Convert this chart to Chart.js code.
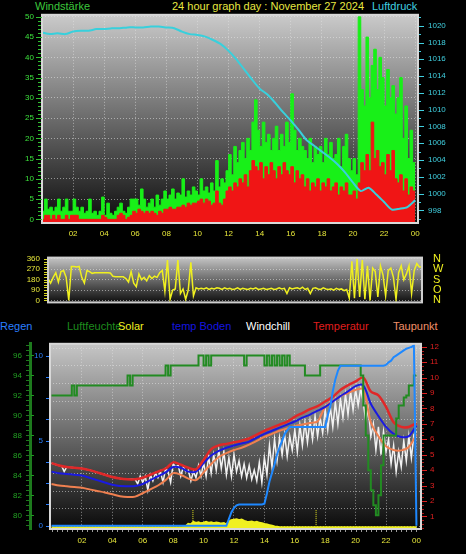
<!DOCTYPE html>
<html>
<head>
<meta charset="utf-8">
<script src="https://cdn.jsdelivr.net/npm/chart.js@4.4.0/dist/chart.umd.min.js"></script>
<style>
  html, body { margin: 0; padding: 0; background: #000; }
  body { width: 466px; height: 554px; position: relative; overflow: hidden; font-family: 'Liberation Sans', Arial, sans-serif; }
  canvas { position: absolute; left: 0; }
  .t { position: absolute; font-size: 11px; line-height: 12px; white-space: nowrap; }
</style>
</head>
<body>
<div class="t" style="left:35px;top:0;color:#3cc83c">Windstärke</div>
<div class="t" style="left:172px;top:0;color:#e8e840">24 hour graph day : November 27 2024</div>
<div class="t" style="left:372px;top:0;color:#40d0e0">Luftdruck</div>

<div class="t" style="left:0;top:320px;color:#2a7fff">Regen</div>
<div class="t" style="left:67px;top:320px;color:#1e8c1e">Luftfeuchte</div>
<div class="t" style="left:118px;top:320px;color:#f0f020">Solar</div>
<div class="t" style="left:172px;top:320px;color:#1515e0">temp Boden</div>
<div class="t" style="left:246px;top:320px;color:#ffffff">Windchill</div>
<div class="t" style="left:313px;top:320px;color:#e01e1e">Temperatur</div>
<div class="t" style="left:393px;top:320px;color:#f0906a">Taupunkt</div>

<canvas id="windChart" style="top:0" width="466" height="245"></canvas>
<canvas id="dirChart" style="top:240px" width="466" height="80"></canvas>
<canvas id="tempChart" style="top:330px" width="466" height="224"></canvas>

<script>
// ---- data (10-minute samples unless noted) ----
const hourTicks = [2, 4, 6, 8, 10, 12, 14, 16, 18, 20, 22, 24];
const windTicks = [0, 5, 10, 15, 20, 25, 30, 35, 40, 45, 50];
const pressTicks = [998, 1000, 1002, 1004, 1006, 1008, 1010, 1012, 1014, 1016, 1018, 1020];
const dirTicks = [0, 90, 180, 270, 360];
const compassLabels = ['N', 'O', 'S', 'W', 'N'];
const humTicks = [80, 82, 84, 86, 88, 90, 92, 94, 96];
const rainTicks = [0, 5, 10];
const tempTicks = [1, 2, 3, 4, 5, 6, 7, 8, 9, 10, 11, 12];
const sunTimes = [9.3, 17.4];

const windGust = [
  3, 2, 5, 2.5, 3, 2,
  3, 5, 2, 3, 5, 2,
  2, 5, 3, 2, 3, 1.5,
  2, 5, 1.5, 2, 1, 2,
  5.5, 1, 4, 1.5, 1, 2,
  3, 4, 2, 1.5, 3, 5,
  5, 5, 3.5, 7.5, 5, 3,
  4, 5, 3, 6, 3.5, 5,
  7, 5, 6, 7.5, 5, 6.5,
  6, 10, 5.5, 7, 6, 8,
  7, 6, 10, 7, 8, 6.5,
  9, 7, 14.5, 8, 10, 9,
  12, 16, 11, 18, 14, 17,
  19, 15, 20, 17, 24, 29.5,
  22, 18, 24, 19, 21, 17,
  20, 23, 17, 21, 18, 24,
  19, 31, 22, 17, 20, 18,
  17, 15, 20, 14, 18, 16,
  18, 14, 20, 16, 19, 15,
  16, 20, 13, 18, 21, 15,
  12, 15, 11, 50, 32, 28,
  45, 30, 38, 42, 32, 40,
  35, 28, 37, 30, 33, 26,
  30, 35, 20, 28, 15, 22,
  14
];

const windAvg = [
  1, 0, 1, 1, 0, 1,
  0, 1, 0, 0, 1, 0,
  1, 1, 1, 0, 0, 0,
  0, 0, 0, 0, 0, 0,
  1, 0.5, 0, 0, 0, 0,
  1, 1.5, 1, 0, 0.5, 1,
  2, 1.5, 2.5, 2, 1.5, 2,
  1.5, 2, 1.5, 1, 2, 1.5,
  2.5, 2.5, 3, 2.5, 2.5, 3,
  3, 3.5, 3, 4, 3.5, 4,
  4, 4.5, 5, 4, 5, 4.5,
  3.5, 4, 7, 4, 3.5, 5,
  7, 8, 7, 9, 8, 10,
  9, 11, 8, 12, 14.5, 13,
  12, 14, 10, 13, 11, 14,
  12, 10, 13, 11, 14, 12,
  11, 13, 9, 12, 10, 11,
  8, 10, 7, 9, 8, 10,
  7, 9, 8, 10, 7, 8,
  9, 6, 8, 7, 9, 6,
  6, 7, 5, 9, 14, 12,
  16, 12, 24, 15, 17, 13,
  14, 11, 16, 12, 17, 10,
  9, 11, 7, 10, 6, 8,
  7
];

// 30-minute samples
const pressure = [
  1019.2, 1019.0, 1019.1, 1019.0, 1019.3, 1019.4, 1019.4, 1019.6, 1019.6, 1019.7,
  1019.7, 1019.8, 1019.8, 1019.8, 1019.9, 1019.9, 1019.8, 1019.7, 1019.3, 1019.0,
  1018.9, 1018.7, 1018.3, 1017.8, 1017.0, 1016.0, 1014.8, 1013.6, 1012.5, 1011.8,
  1010.8, 1009.7, 1008.7, 1007.6, 1006.4, 1005.7, 1005.0, 1004.3, 1003.5, 1002.5,
  1001.3, 1000.3, 1000.7, 999.9, 999.0, 998.1, 998.2, 998.4, 999.2
];

const windDir = [
  190, 150, 200, 240, 160, 250,
  260, 200, 0, 295, 295, 290,
  295, 200, 150, 260, 250, 235,
  240, 240, 240, 240, 240, 240,
  238, 210, 205, 205, 205, 205,
  190, 160, 250, 150, 120, 230,
  180, 200, 170, 215, 190, 210,
  200, 240, 260, 80, 350, 10,
  90, 100, 350, 60, 100, 10,
  90, 330, 40, 110, 100, 105,
  100, 110, 95, 105, 100, 110,
  105, 95, 110, 100, 105, 95,
  100, 110, 95, 105, 100, 95,
  105, 100, 110, 95, 100, 105,
  95, 100, 105, 95, 100, 110,
  100, 105, 60, 110, 100, 105,
  110, 100, 115, 95, 105, 60,
  105, 110, 100, 95, 110, 100,
  95, 100, 90, 105, 95, 100,
  85, 95, 20, 340, 20, 360,
  30, 350, 10, 300, 0, 280,
  250, 30, 300, 220, 40, 260,
  280, 200, 10, 240, 300, 180,
  230, 300, 60, 260, 320, 290,
  290
];

const humidity = [
  92, 92, 92, 92, 92, 92,
  92, 92, 92, 93, 92, 93,
  93, 93, 93, 93, 93, 93,
  93, 93, 93, 93, 93, 93,
  93, 93, 93, 93, 93, 93,
  93, 94, 93, 94, 94, 94,
  94, 94, 94, 94, 94, 94,
  94, 94, 94, 94, 95, 94,
  95, 95, 95, 95, 95, 95,
  95, 95, 95, 95, 95, 96,
  96, 95, 96, 95, 96, 96,
  96, 96, 96, 96, 96, 96,
  96, 96, 96, 96, 96, 95,
  96, 96, 96, 96, 96, 96,
  96, 95, 96, 95, 96, 95,
  96, 95, 96, 95, 96, 95,
  95, 95, 95, 95, 95, 94,
  94, 94, 94, 94, 94, 95,
  95, 95, 95, 95, 95, 95,
  95, 95, 95, 95, 95, 95,
  95, 95, 95, 94, 91, 88,
  84.5, 82.5, 81, 80, 82, 85,
  88, 88, 88, 88, 88, 89.7,
  91, 91, 91.8, 92, 93, 93,
  94
];

const rain = [
  0, 0, 0, 0, 0, 0,
  0, 0, 0, 0, 0, 0,
  0, 0, 0, 0, 0, 0,
  0, 0, 0, 0, 0, 0,
  0, 0, 0, 0, 0, 0,
  0, 0, 0, 0, 0, 0,
  0, 0, 0, 0, 0, 0,
  0, 0, 0, 0, 0, 0,
  0, 0, 0, 0, 0, 0,
  0, 0, 0, 0, 0, 0,
  0, 0, 0, 0, 0, 0,
  0, 0, 0, 0, 0.4, 0.8,
  1.05, 1.2, 1.25, 1.25, 1.25, 1.25,
  1.25, 1.25, 1.25, 1.25, 1.25, 1.25,
  1.3, 1.9, 2.6, 3.1, 3.6, 4.2,
  4.6, 5.0, 5.4, 5.6, 5.8, 5.8,
  5.8, 5.8, 5.8, 5.8, 5.8, 5.8,
  5.8, 5.8, 5.8, 5.8, 5.8, 5.8,
  5.8, 6.5, 7.0, 7.9, 8.6, 9.1,
  9.4, 9.4, 9.4, 9.4, 9.4, 9.4,
  9.4, 9.4, 9.4, 9.4, 9.4, 9.4,
  9.4, 9.4, 9.4, 9.4, 9.4, 9.4,
  9.45, 9.6, 9.7, 9.9, 10.0, 10.1,
  10.2, 10.3, 10.4, 10.45, 10.5, 10.6,
  0
];

const solar = [
  0, 0, 0, 0, 0, 0,
  0, 0, 0, 0, 0, 0,
  0, 0, 0, 0, 0, 0,
  0, 0, 0, 0, 0, 0,
  0, 0, 0, 0, 0, 0,
  0, 0, 0, 0, 0, 0,
  0, 0, 0, 0, 0, 0,
  0, 0, 0, 0, 0, 0,
  0, 0, 0, 0, 0, 6,
  22, 18, 34, 28, 32, 26,
  30, 35, 28, 33, 27, 31,
  28, 24, 27, 17, 36, 46,
  50, 52, 46, 50, 42, 36,
  34, 38, 32, 35, 29, 27,
  22, 18, 14, 10, 6, 3,
  0, 0, 0, 0, 0, 0,
  0, 0, 0, 0, 0, 0,
  0, 0, 0, 0, 0, 0,
  0, 0, 0, 0, 0, 0,
  0, 0, 0, 0, 0, 0,
  0, 0, 0, 0, 0, 0,
  0, 0, 0, 0, 0, 0,
  0, 0, 0, 0, 0, 0,
  0, 0, 0, 0, 0, 0,
  0
];

const windChill = [
  4.45, 4.4, 4.35, 4.3, 4.27, 3.9,
  4.2, 4.18, 4.17, 4.15, 4.13, 4.12,
  4.1, 4.07, 4.03, 4.0, 3.95, 3.9,
  3.85, 3.8, 3.75, 3.7, 3.65, 3.6,
  3.55, 3.52, 3.48, 3.45, 3.43, 3.42,
  3.4, 3.4, 3.4, 3.4, 3.1, 3.6,
  3.2, 3.6, 2.7, 3.7, 3.3, 3.8,
  3.5, 3.9, 3.2, 4.1, 3.9, 3.2,
  4.4, 4.2, 4.3, 3.6, 4.2, 3.9,
  4.0, 3.3, 3.9, 3.5, 4.3, 3.6,
  4.5, 3.6, 4.9, 3.8, 5.0, 4.0,
  5.3, 4.1, 5.2, 3.7, 4.8, 3.6,
  5.0, 3.9, 4.6, 3.6, 4.4, 3.5,
  4.3, 3.4, 4.0, 3.3, 4.5, 3.2,
  4.8, 3.7, 5.6, 4.2, 6.0, 4.6,
  6.1, 5.0, 6.3, 4.9, 6.2, 5.3,
  6.6, 5.2, 6.9, 5.6, 7.1, 5.8,
  7.2, 6.0, 7.5, 6.2, 7.4, 6.4,
  7.9, 6.6, 8.1, 6.8, 8.4, 7.0,
  8.6, 7.4, 8.9, 7.6, 9.1, 7.9,
  9.2, 8.2, 9.3, 8.4, 7.2, 8.0,
  6.2, 7.0, 5.3, 6.8, 5.0, 6.5,
  5.2, 6.0, 4.4, 5.6, 3.9, 5.2,
  4.2, 5.9, 4.6, 6.2, 4.8, 6.3,
  6.5
];

// 30-minute samples
const tempAir = [
  4.45, 4.3, 4.2, 4.15, 4.1, 4.0, 3.85, 3.7, 3.55, 3.45,
  3.4, 3.4, 3.5, 3.7, 3.9, 4.1, 4.5, 4.35, 4.15, 4.05,
  4.65, 5.35, 5.6, 5.7, 5.8, 5.9, 6.05, 6.3, 6.55, 6.75,
  6.95, 7.15, 7.45, 7.7, 7.95, 8.15, 8.45, 8.75, 9.2, 9.5,
  9.75, 10.0, 9.1, 8.85, 8.1, 7.1, 6.8, 6.8, 7.05
];
const tempSoil = [
  3.9, 3.8, 3.75, 3.7, 3.65, 3.5, 3.35, 3.2, 3.05, 2.97,
  2.96, 2.97, 3.1, 3.35, 3.6, 3.85, 4.2, 4.15, 3.9, 3.9,
  4.45, 4.95, 5.25, 5.45, 5.6, 5.72, 5.85, 6.1, 6.35, 6.55,
  6.75, 6.95, 7.15, 7.4, 7.6, 7.85, 8.1, 8.45, 8.8, 9.1,
  9.45, 9.5, 8.3, 7.5, 6.8, 6.35, 6.15, 6.2, 6.9
];
const dewPoint = [
  3.1, 3.0, 2.95, 2.9, 2.85, 2.75, 2.65, 2.55, 2.43, 2.3,
  2.25, 2.28, 2.5, 2.75, 3.0, 3.35, 3.8, 3.7, 3.45, 3.35,
  3.85, 4.4, 4.85, 5.1, 5.3, 5.45, 5.65, 5.9, 6.15, 6.35,
  6.55, 6.7, 6.85, 6.95, 7.05, 7.15, 8.1, 8.5, 8.8, 9.0,
  9.2, 9.25, 7.1, 6.2, 5.55, 5.3, 5.28, 5.5, 6.3
];

// ---- helpers ----
Chart.defaults.font.family = "'Liberation Sans', Arial, sans-serif";
Chart.defaults.font.size = 8;
Chart.defaults.animation = false;
Chart.defaults.responsive = false;
Chart.defaults.events = [];
Chart.defaults.plugins.legend.display = false;
Chart.defaults.plugins.tooltip.enabled = false;
Chart.defaults.elements.point.radius = 0;
Chart.defaults.elements.line.tension = 0;

const series = (vals, perHour) => vals.map((v, i) => ({ x: i / perHour, y: v }));
const fixTicks = list => s => { s.ticks = list.map(v => ({ value: v })); };
const hourLabel = v => String(v % 24).padStart(2, '0');
const plain = v => String(v);
const dots = 'rgba(230,230,230,0.55)';
const yellow = '#e6e63a';

// gradient plot background + light frame
const panelBg = {
    id: 'panelBg',
    beforeDraw(chart, args, opts) {
        const { ctx, chartArea: a } = chart;
        const g = ctx.createLinearGradient(0, a.top, 0, a.bottom);
        g.addColorStop(0, opts.top);
        g.addColorStop(1, opts.bottom);
        ctx.save();
        ctx.fillStyle = g;
        ctx.fillRect(a.left, a.top, a.width, a.height);
        ctx.restore();
    },
    afterDatasetsDraw(chart, args, opts) {
        const { ctx, chartArea: a } = chart;
        ctx.save();
        ctx.strokeStyle = opts.frame;
        ctx.lineWidth = 2;
        ctx.strokeRect(a.left, a.top, a.width, a.height);
        ctx.restore();
    }
};

// small tick marks next to the axes
const minorTicks = {
    id: 'minorTicks',
    afterDraw(chart, args, opts) {
        const ctx = chart.ctx;
        (opts.list || []).forEach(m => {
            const s = chart.scales[m.axis];
            ctx.save();
            ctx.strokeStyle = m.color;
            ctx.lineWidth = 1;
            for (let v = m.from; v <= m.to + 1e-6; v += m.step) {
                const p = Math.round(s.getPixelForValue(v)) + 0.5;
                ctx.beginPath();
                if (s.isHorizontal()) { ctx.moveTo(p, m.at); ctx.lineTo(p, m.at + m.len); }
                else { ctx.moveTo(m.at, p); ctx.lineTo(m.at + m.len, p); }
                ctx.stroke();
            }
            ctx.restore();
        });
    }
};

// ---- panel 1: wind speed / pressure ----
new Chart(document.getElementById('windChart'), {
    type: 'line',
    data: {
        datasets: [
            { data: series(pressure, 2), yAxisID: 'press', borderColor: '#38d0dc', borderWidth: 2, tension: 0.25, order: 0 },
            { data: series(windAvg, 6), yAxisID: 'wind', stepped: 'after', fill: 'start', borderColor: '#f01515', backgroundColor: '#f01515', borderWidth: 1, order: 1 },
            { data: series(windGust, 6), yAxisID: 'wind', stepped: 'after', fill: 'start', borderColor: '#18f018', backgroundColor: '#18f018', borderWidth: 1, order: 2 }
        ]
    },
    options: {
        layout: { padding: { top: 10 } },
        scales: {
            x: {
                type: 'linear', min: 0, max: 24.18,
                afterBuildTicks: fixTicks(hourTicks),
                ticks: { color: yellow, padding: 6, maxRotation: 0, autoSkip: false, callback: hourLabel },
                grid: { color: dots, drawTicks: false },
                border: { display: false, dash: [1, 2] },
                afterFit: s => { s.height = 22; }
            },
            wind: {
                position: 'left', min: -0.9, max: 50.5,
                afterBuildTicks: fixTicks(windTicks),
                ticks: { color: '#3ce03c', padding: 8, autoSkip: false, callback: plain },
                grid: { color: dots, drawTicks: false },
                border: { display: false, dash: [1, 2] },
                afterFit: s => { s.width = 42; }
            },
            press: {
                position: 'right', min: 996.5, max: 1021.3,
                afterBuildTicks: fixTicks(pressTicks),
                ticks: { color: '#40d0e0', padding: 10, autoSkip: false, callback: plain },
                grid: { drawOnChartArea: false, drawTicks: false },
                border: { display: false },
                afterFit: s => { s.width = 48; }
            }
        },
        plugins: {
            panelBg: { top: '#cacaca', bottom: '#0c0c0c', frame: '#d8d8d8' },
            minorTicks: { list: [
                { axis: 'wind', from: 0, to: 50, step: 1, at: 38, len: 3, color: '#30c030' },
                { axis: 'wind', from: 0, to: 50, step: 5, at: 36, len: 6, color: '#30c030' },
                { axis: 'press', from: 997, to: 1021, step: 1, at: 419, len: 2, color: '#40d0e0' },
                { axis: 'press', from: 998, to: 1020, step: 2, at: 419, len: 5, color: '#40d0e0' }
            ] }
        }
    },
    plugins: [panelBg, minorTicks]
});

// ---- panel 2: wind direction ----
new Chart(document.getElementById('dirChart'), {
    type: 'line',
    data: {
        datasets: [
            { data: series(windDir, 6), yAxisID: 'dir', borderColor: '#f0f020', borderWidth: 1.5 }
        ]
    },
    options: {
        layout: { padding: { top: 4, bottom: 7 } },
        scales: {
            x: { type: 'linear', min: 0, max: 24, display: false },
            dir: {
                position: 'left', min: -16.9, max: 371.3,
                afterBuildTicks: fixTicks(dirTicks),
                ticks: { color: yellow, padding: 8, autoSkip: false, callback: plain },
                grid: { color: dots, drawTicks: false },
                border: { display: false, dash: [1, 2] },
                afterFit: s => { s.width = 48; }
            },
            compass: {
                position: 'right', min: -16.9, max: 371.3,
                afterBuildTicks: fixTicks(dirTicks),
                ticks: { color: '#f0f020', padding: 11, font: { size: 11 }, autoSkip: false, callback: (v, i) => compassLabels[i] },
                grid: { drawOnChartArea: false, drawTicks: false },
                border: { display: false },
                afterFit: s => { s.width = 44; }
            }
        },
        plugins: {
            panelBg: { top: '#c4c4c4', bottom: '#0e0e0e', frame: '#cfcfcf' },
            minorTicks: { list: [
                { axis: 'dir', from: 0, to: 360, step: 22.5, at: 44, len: 3, color: '#d8d820' }
            ] }
        }
    },
    plugins: [panelBg, minorTicks]
});

// ---- panel 3: temperatures, humidity, rain, solar ----
new Chart(document.getElementById('tempChart'), {
    type: 'line',
    data: {
        datasets: [
            { data: series(rain, 6), yAxisID: 'rain', borderColor: '#1e88ff', borderWidth: 2, order: 0 },
            { data: series(humidity, 6), yAxisID: 'hum', stepped: 'after', borderColor: '#228b22', borderWidth: 2, order: 1 },
            { data: series(tempAir, 2), yAxisID: 'temp', borderColor: '#e02828', borderWidth: 2.5, tension: 0.3, order: 2 },
            { data: series(tempSoil, 2), yAxisID: 'temp', borderColor: '#1a1ae0', borderWidth: 2, tension: 0.3, order: 3 },
            { data: series(dewPoint, 2), yAxisID: 'temp', borderColor: '#f08050', borderWidth: 2, tension: 0.3, order: 4 },
            { data: series(windChill, 6), yAxisID: 'temp', borderColor: '#f2f2f2', borderWidth: 1.5, order: 5 },
            { data: sunTimes.flatMap(t => [{ x: t, y: 17 }, { x: t, y: 115 }, { x: t, y: null }]), yAxisID: 'sol', borderColor: '#f0f020', borderWidth: 1, borderDash: [1, 1], order: 6 },
            { data: series(solar, 6), yAxisID: 'sol', fill: 'start', borderColor: '#f0f020', backgroundColor: '#f0f020', borderWidth: 3, order: 7 }
        ]
    },
    options: {
        layout: { padding: { top: 9 } },
        scales: {
            x: {
                type: 'linear', min: -0.1, max: 24.3,
                afterBuildTicks: fixTicks(hourTicks),
                ticks: { color: yellow, padding: 7, maxRotation: 0, autoSkip: false, callback: hourLabel },
                grid: { color: dots, drawTicks: false },
                border: { display: false, dash: [1, 2] },
                afterFit: s => { s.height = 25; }
            },
            rain: {
                position: 'left', weight: 0, min: -0.19, max: 10.69,
                afterBuildTicks: fixTicks(rainTicks),
                ticks: { color: '#2a7fff', padding: 7, autoSkip: false, callback: plain },
                grid: { drawOnChartArea: false, drawTicks: false },
                border: { display: false },
                afterFit: s => { s.width = 20; }
            },
            hum: {
                position: 'left', weight: 1, min: 78.63, max: 97.17,
                afterBuildTicks: fixTicks(humTicks),
                ticks: { color: '#22a022', padding: 8, autoSkip: false, callback: plain },
                grid: { drawOnChartArea: false, drawTicks: false },
                border: { display: true, color: '#1d7a1d', width: 3 },
                afterFit: s => { s.width = 30; }
            },
            temp: {
                position: 'right', weight: 0, min: 0.18, max: 12.19,
                afterBuildTicks: fixTicks(tempTicks),
                ticks: { color: '#e02020', padding: 9, autoSkip: false, callback: plain },
                grid: { drawOnChartArea: false, drawTicks: false },
                border: { display: false },
                afterFit: s => { s.width = 45; }
            },
            g: {
                position: 'right', weight: 1, min: -0.125, max: 10.24,
                afterBuildTicks: s => { s.ticks = [0, 1, 2, 3, 4, 5, 6, 7, 8, 9, 10].map(v => ({ value: v })); },
                ticks: { display: false },
                grid: { color: dots, drawTicks: false },
                border: { display: false, dash: [1, 2] },
                afterFit: s => { s.width = 0; }
            },
            sol: { display: false, min: -8, max: 1200 }
        },
        plugins: {
            panelBg: { top: '#c6c6c6', bottom: '#0a0a0a', frame: '#d8d8d8' },
            minorTicks: { list: [
                { axis: 'hum', from: 79, to: 97, step: 0.5, at: 26, len: 3, color: '#1d7a1d' },
                { axis: 'hum', from: 80, to: 96, step: 2, at: 31, len: 3, color: '#1d9a1d' },
                { axis: 'rain', from: 0, to: 10, step: 1.25, at: 46, len: 3, color: '#2a7fff' },
                { axis: 'temp', from: 0.25, to: 12, step: 0.25, at: 422, len: 2, color: '#b01818' },
                { axis: 'temp', from: 1, to: 12, step: 1, at: 422, len: 5, color: '#e02020' },
                { axis: 'x', from: 0, to: 24, step: 1 / 3, at: 200, len: 2, color: '#9a9a9a' }
            ] }
        }
    },
    plugins: [panelBg, minorTicks]
});
</script>
</body>
</html>
